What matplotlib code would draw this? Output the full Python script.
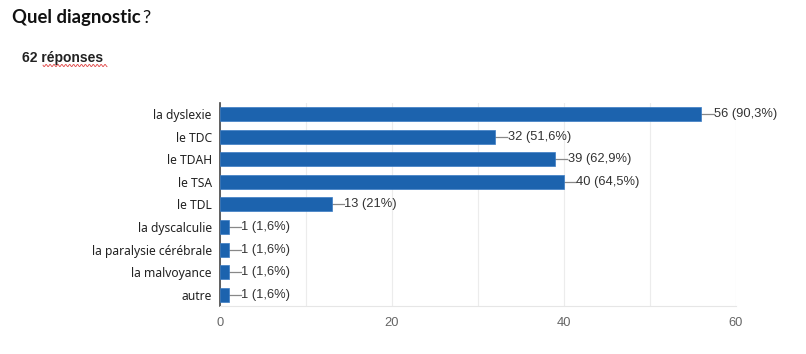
import numpy as np
import matplotlib
matplotlib.use('Agg')
import matplotlib.pyplot as plt

categories = ['la dyslexie', 'le TDC', 'le TDAH', 'le TSA', 'le TDL',
              'la dyscalculie', 'la paralysie cérébrale', 'la malvoyance', 'autre']
counts = [56, 32, 39, 40, 13, 1, 1, 1, 1]
percents = ['90,3%', '51,6%', '62,9%', '64,5%', '21%', '1,6%', '1,6%', '1,6%', '1,6%']
xticks = [0, 20, 40, 60]

plt.rcParams['font.family'] = ['Noto Sans', 'DejaVu Sans']

fig = plt.figure(figsize=(8.06, 3.54), dpi=100)
ax = fig.add_axes([0.273, 0.135, 0.64, 0.575])

ypos = np.arange(len(categories))
ax.barh(ypos, counts, height=0.62, color='#1c63ae', edgecolor='#3a7cc4', linewidth=0.5, zorder=3)
ax.set_ylim(len(categories) - 0.5, -0.5)
ax.set_xlim(0, 60)

# value labels with leader lines
for y, c, p in zip(ypos, counts, percents):
    ax.plot([c, c + 1.4], [y, y], color='#888888', lw=0.9, zorder=2)
    ax.text(c + 1.45, y, '%d (%s)' % (c, p), va='center', ha='left',
            fontsize=9.3, color='#333333', family='Liberation Sans')

ax.set_yticks(ypos)
ax.set_yticklabels(categories, fontsize=8.7, color='#222222')
ax.set_xticks(xticks)
ax.set_xticklabels([str(t) for t in xticks], fontsize=9.3, color='#666666',
                   family='Liberation Sans')
ax.set_xticks(np.arange(0, 61, 10), minor=True)
ax.tick_params(axis='both', which='both', length=0, pad=6)
ax.tick_params(axis='x', pad=8)
ax.grid(axis='x', which='both', color='#ececec', lw=0.8, zorder=0)

for s in ['top', 'right']:
    ax.spines[s].set_visible(False)
ax.spines['bottom'].set_color('#e6e6e6')
ax.spines['left'].set_color('#444444')
ax.spines['left'].set_linewidth(1.2)

t1 = fig.text(12 / 806, 1 - 18 / 354, 'Quel diagnostic', fontsize=13.3, fontweight='bold',
              family='Lato', va='center', ha='left', color='#111111')
fig.canvas.draw()
bb = t1.get_window_extent()
fig.text(bb.x1 / 806 + 0.002, 1 - 18 / 354, '?', fontsize=13.3, family='Lato',
         va='center', ha='left', color='#111111')
fig.text(22 / 806, 1 - 58 / 354, '62 réponses', fontsize=10, fontweight='bold',
         family='Liberation Sans', va='center', ha='left', color='#222222')

# spell-check squiggle under "réponses"
sx = np.linspace(43, 107, 120)
sy = 65.5 + 1.1 * np.sin(sx * 1.6)
fig.add_artist(plt.Line2D(sx / 806, 1 - sy / 354, color='#e04040', lw=0.6))

fig.savefig('out.png', dpi=100, facecolor='white')
